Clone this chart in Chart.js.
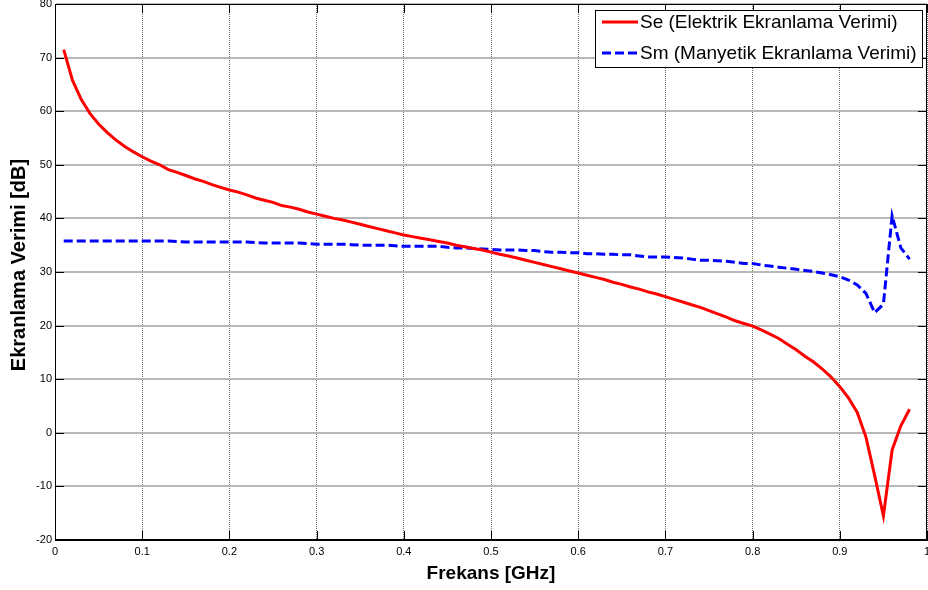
<!DOCTYPE html>
<html>
<head>
<meta charset="utf-8">
<script src="https://cdn.jsdelivr.net/npm/chart.js@4.4.1/dist/chart.umd.min.js"></script>
<style>
html,body{margin:0;padding:0;background:#fff;}
#wrap{width:928px;height:590px;position:relative;}
</style>
</head>
<body>
<div id="wrap"><canvas id="c" width="928" height="590"></canvas></div>
<script>
const freq = [0.01,0.02,0.03,0.04,0.05,0.06,0.07,0.08,0.09,0.10,
0.11,0.12,0.13,0.14,0.15,0.16,0.17,0.18,0.19,0.20,
0.21,0.22,0.23,0.24,0.25,0.26,0.27,0.28,0.29,0.30,
0.31,0.32,0.33,0.34,0.35,0.36,0.37,0.38,0.39,0.40,
0.41,0.42,0.43,0.44,0.45,0.46,0.47,0.48,0.49,0.50,
0.51,0.52,0.53,0.54,0.55,0.56,0.57,0.58,0.59,0.60,
0.61,0.62,0.63,0.64,0.65,0.66,0.67,0.68,0.69,0.70,
0.71,0.72,0.73,0.74,0.75,0.76,0.77,0.78,0.79,0.80,
0.81,0.82,0.83,0.84,0.85,0.86,0.87,0.88,0.89,0.90,
0.91,0.92,0.93,0.94,0.95,0.96,0.97,0.98];

const seValues = [71.5,65.8,62.2,59.6,57.6,56.0,54.6,53.4,52.4,51.5,
50.7,50.0,49.1,48.6,48.0,47.4,46.9,46.3,45.8,45.3,
44.9,44.4,43.8,43.4,43.0,42.4,42.1,41.7,41.2,40.8,
40.4,40.0,39.7,39.3,38.9,38.5,38.1,37.7,37.3,36.9,
36.6,36.3,36.0,35.7,35.4,35.0,34.7,34.4,34.1,33.7,
33.3,33.0,32.6,32.2,31.8,31.4,31.0,30.6,30.2,29.8,
29.4,29.0,28.6,28.1,27.7,27.2,26.8,26.3,25.9,25.4,
24.9,24.4,23.9,23.4,22.8,22.2,21.6,20.9,20.4,19.9,
19.2,18.4,17.6,16.5,15.5,14.3,13.2,11.9,10.4,8.6,
6.5,3.8,-0.8,-8.0,-15.5,-3.2,1.3,4.4];

const smValues = [35.8,35.8,35.8,35.8,35.8,35.8,35.8,35.8,35.8,35.8,
35.8,35.8,35.8,35.7,35.6,35.6,35.6,35.6,35.6,35.6,
35.6,35.6,35.5,35.4,35.4,35.4,35.4,35.4,35.3,35.2,
35.2,35.2,35.2,35.1,35.0,35.0,35.0,35.0,34.9,34.8,
34.8,34.8,34.8,34.8,34.6,34.5,34.5,34.4,34.3,34.2,
34.1,34.1,34.1,34.0,34.0,33.8,33.7,33.7,33.6,33.6,
33.4,33.4,33.3,33.3,33.2,33.2,33.0,32.8,32.8,32.8,
32.7,32.6,32.4,32.2,32.2,32.1,32.0,31.8,31.6,31.6,
31.3,31.1,30.9,30.7,30.5,30.3,30.1,29.8,29.5,29.1,
28.5,27.6,26.0,22.4,24.0,40.5,34.5,32.4];

const seriesNames = ['Se (Elektrik Ekranlama Verimi)', 'Sm (Manyetik Ekranlama Verimi)'];
const xTitle = 'Frekans [GHz]';
const yTitle = 'Ekranlama Verimi [dB]';
const xMin = 0, xMax = 1, xStep = 0.1;
const yMin = -20, yMax = 80, yStep = 10;

const FONT = 'Liberation Sans, Arial, Helvetica, sans-serif';

const frame = {
  id: 'frame',
  afterDraw(chart) {
    const {ctx, chartArea: a, scales: {x, y}} = chart;
    ctx.save();
    ctx.strokeStyle = '#000';
    ctx.lineWidth = 1;
    ctx.beginPath();
    ctx.rect(a.left + 0.5, a.top + 0.5, a.right - a.left - 1, a.bottom - a.top - 1);
    ctx.stroke();
    const tl = 9;
    ctx.beginPath();
    x.ticks.forEach(t => {
      const px = Math.round(x.getPixelForValue(t.value)) + 0.5;
      ctx.moveTo(px, a.bottom); ctx.lineTo(px, a.bottom - tl);
      ctx.moveTo(px, a.top); ctx.lineTo(px, a.top + tl);
    });
    y.ticks.forEach(t => {
      const py = Math.round(y.getPixelForValue(t.value)) + 0.5;
      ctx.moveTo(a.left, py); ctx.lineTo(a.left + tl, py);
      ctx.moveTo(a.right, py); ctx.lineTo(a.right - tl, py);
    });
    ctx.stroke();

    // y axis title
    ctx.save();
    ctx.translate(19, 265);
    ctx.rotate(-Math.PI / 2);
    ctx.fillStyle = '#000';
    ctx.font = 'bold 20px ' + FONT;
    ctx.textAlign = 'center';
    ctx.textBaseline = 'middle';
    ctx.fillText(yTitle, 0, 0);
    ctx.restore();

    // legend
    const lx = 595.5, ly = 10.5, lw = 327, lh = 57;
    ctx.fillStyle = '#fff';
    ctx.fillRect(lx, ly, lw, lh);
    ctx.strokeStyle = '#000';
    ctx.lineWidth = 1;
    ctx.strokeRect(lx, ly, lw, lh);
    const ds = chart.data.datasets;
    const rows = [22, 53];
    ds.forEach((d, i) => {
      ctx.save();
      ctx.strokeStyle = d.borderColor;
      ctx.lineWidth = 3;
      ctx.setLineDash(d.borderDash || []);
      ctx.beginPath();
      ctx.moveTo(602, rows[i]);
      ctx.lineTo(638, rows[i]);
      ctx.stroke();
      ctx.restore();
      ctx.fillStyle = '#000';
      ctx.font = '19px ' + FONT;
      ctx.textBaseline = 'middle';
      ctx.textAlign = 'left';
      ctx.fillText(d.label, 640, rows[i] + 1);
    });
    ctx.restore();
  }
};

new Chart(document.getElementById('c'), {
  type: 'line',
  data: {
    datasets: [
      {
        label: seriesNames[0],
        data: freq.map((f, i) => ({x: f, y: seValues[i]})),
        borderColor: '#ff0000',
        borderWidth: 3,
        pointRadius: 0,
        tension: 0,
        fill: false
      },
      {
        label: seriesNames[1],
        data: freq.map((f, i) => ({x: f, y: smValues[i]})),
        borderColor: '#0000ff',
        borderWidth: 3,
        borderDash: [9, 4],
        pointRadius: 0,
        tension: 0,
        fill: false
      }
    ]
  },
  options: {
    responsive: false,
    animation: false,
    devicePixelRatio: 1,
    layout: { padding: { top: 4, right: 1, left: 0, bottom: 0 } },
    plugins: { legend: { display: false }, tooltip: { enabled: false } },
    scales: {
      x: {
        type: 'linear',
        min: xMin, max: xMax,
        ticks: {
          stepSize: xStep,
          color: '#000',
          font: { family: FONT, size: 11 },
          padding: 5,
          maxRotation: 0,
          autoSkip: false,
          callback: v => String(Math.round(v * 10) / 10)
        },
        grid: { color: '#6e6e6e', lineWidth: 1, drawTicks: false },
        border: { display: true, color: '#000', width: 1, dash: [1, 1] },
        title: {
          display: true, text: xTitle, color: '#000',
          font: { family: FONT, size: 19, weight: 'bold' },
          padding: { top: 0, bottom: 5 }
        },
        afterFit(s) { s.height = 50; s.paddingLeft = 0; s.paddingRight = 0; }
      },
      y: {
        type: 'linear',
        min: yMin, max: yMax,
        ticks: {
          stepSize: yStep,
          color: '#000',
          font: { family: FONT, size: 11 },
          padding: 3
        },
        grid: { color: '#b8b8b8', lineWidth: 2, drawTicks: false },
        border: { display: true, color: '#000', width: 1 },
        title: { display: false },
        afterFit(s) { s.width = 55; s.paddingTop = 0; s.paddingBottom = 0; }
      }
    }
  },
  plugins: [frame]
});
</script>
</body>
</html>
